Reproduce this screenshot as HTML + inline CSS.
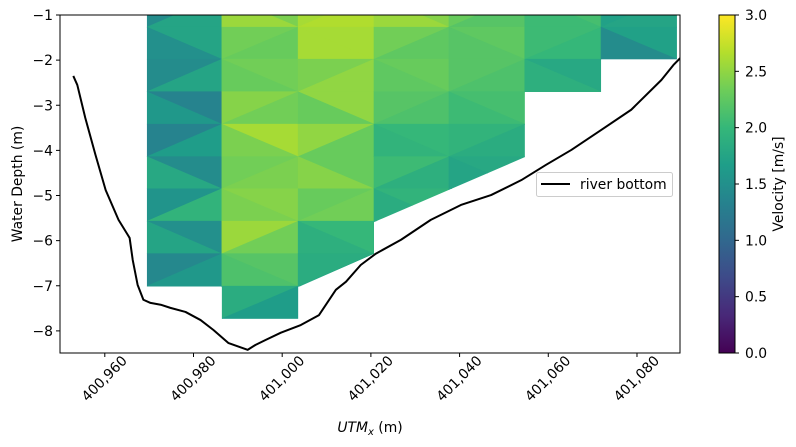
<!DOCTYPE html>
<html><head><meta charset="utf-8"><style>
html,body{margin:0;padding:0;background:#fff;}
svg{display:block;font-family:"DejaVu Sans","Liberation Sans",sans-serif;}
</style></head><body>
<svg id="chart" width="796" height="447" viewBox="0 0 796 447">
<defs>
<clipPath id="axclip"><rect x="60" y="15" width="620" height="338"/></clipPath>
<clipPath id="meshclip"><polygon id="meshpoly" points=""/></clipPath>
<linearGradient id="viridis" x1="0" y1="1" x2="0" y2="0"></linearGradient>
</defs>
<g id="mesh" clip-path="url(#axclip)"><g id="meshinner" clip-path="url(#meshclip)"></g></g>
<polyline id="bottom" fill="none" stroke="#000" stroke-width="2" stroke-linejoin="round" clip-path="url(#axclip)"/>
<rect x="60" y="15" width="620" height="338" fill="none" stroke="#000" stroke-width="1"/>
<g id="xticks"></g>
<g id="yticks"></g>
<text x="370" y="432" text-anchor="middle" font-size="13.9"><tspan font-style="italic">UTM</tspan><tspan font-style="italic" font-size="10" dy="3">x</tspan><tspan dy="-3"> (m)</tspan></text>
<text transform="translate(22,184) rotate(-90)" text-anchor="middle" font-size="13.9">Water Depth (m)</text>
<g>
<rect x="536.5" y="172.5" width="136" height="24" rx="2" fill="#fff" fill-opacity="0.8" stroke="#ccc"/>
<line x1="541" y1="184" x2="570" y2="184" stroke="#000" stroke-width="2"/>
<text x="580" y="189" font-size="13.9">river bottom</text>
</g>
<rect x="719" y="15" width="16" height="338" fill="url(#viridis)" stroke="#000" stroke-width="1"/>
<g id="cticks"></g>
<text transform="translate(783,184) rotate(-90)" text-anchor="middle" font-size="13.9">Velocity [m/s]</text>
</svg>
<script>
const xTicks = [400960, 400980, 401000, 401020, 401040, 401060, 401080];
const yTicks = [-1, -2, -3, -4, -5, -6, -7, -8];
const cTicks = [0, 0.5, 1, 1.5, 2, 2.5, 3];
const colEdges = [400969.5, 400986.4, 401003.6, 401020.7, 401037.6, 401054.7, 401071.9, 401089.0];
const rowNodes = [-0.55, -1.27, -1.98, -2.70, -3.42, -4.14, -4.85, -5.57, -6.29, -7.01, -7.73];
const meshOutline = [[400969.5,-0.5],[401089.0,-0.5],[401089.0,-1.98],[401071.9,-1.98],[401071.9,-2.71],[401054.7,-2.71],[401054.7,-4.15],[401020.7,-5.59],[401020.7,-6.29],[401003.6,-7.03],[401003.6,-7.73],[400986.4,-7.73],[400986.4,-7.03],[400969.5,-7.03]];
const vel0 = [[1.45,1.75],[1.75,1.5],[1.45,1.75],[1.35,1.6],[1.35,1.65],[1.45,1.8],[1.55,1.95],[1.5,1.75],[1.4,1.6]];
const vel1 = [[2.4,2.55],[2.35,2.3],[2.35,2.3],[2.45,2.35],[2.6,2.4],[2.35,2.4],[2.45,2.4],[2.55,2.35],[2.2,2.15],[1.85,1.65]];
const vel2 = [[2.6,2.65],[2.6,2.6],[2.4,2.5],[2.5,2.3],[2.5,2.3],[2.3,2.45],[2.3,2.35],[2.0,1.9],[1.85,1.8]];
const vel3 = [[2.45,2.55],[2.35,2.25],[2.3,2.25],[2.2,2.15],[2.0,1.95],[2.05,1.9],[1.95,1.85],[1.85,1.8]];
const vel4 = [[2.3,2.2],[2.25,2.2],[2.2,2.15],[2.1,2.05],[1.95,1.85],[1.8,1.75],[1.75,1.7]];
const vel5 = [[2.1,2.05],[2.05,2.0],[1.8,1.9]];
const vel6 = [[1.7,1.75],[1.7,1.45]];
const bottomX = [400952.9,400953.8,400955.6,400957.9,400960.2,400963.1,400965.6,400966.3,400967.4,400968.7,400970.3,400972.6,400974.8,400978.2,400981.6,400984.5,400987.9,400992.2,400994.0,400996.3,400999.7,401004.2,401008.3,401012.1,401014.4,401017.7,401021.1,401026.8,401033.5,401040.3,401047.1,401053.9,401059.5,401065.2,401071.9,401078.7,401085.5,401088.2,401090.0];
const bottomY = [-2.35,-2.55,-3.28,-4.10,-4.88,-5.54,-5.94,-6.43,-6.98,-7.31,-7.38,-7.42,-7.49,-7.58,-7.76,-7.98,-8.27,-8.42,-8.31,-8.20,-8.04,-7.87,-7.65,-7.09,-6.91,-6.54,-6.29,-5.98,-5.54,-5.21,-4.99,-4.66,-4.32,-3.99,-3.55,-3.10,-2.44,-2.11,-1.93];

const NS='http://www.w3.org/2000/svg';
const X0=60,X1=680,Y0=15,Y1=353, xmin=400949.9,xmax=401089.7,ymax=-1,ymin=-8.49;
const sx=v=>X0+(v-xmin)/(xmax-xmin)*(X1-X0);
const sy=v=>Y0+(ymax-v)/(ymax-ymin)*(Y1-Y0);
const sc=v=>Y1-(v-0)/3*(Y1-Y0);
const VIR=[[68,1,84],[72,40,120],[62,74,137],[49,104,142],[38,130,142],[31,158,137],[53,183,121],[109,205,89],[180,222,44],[253,231,37]];
function vir(t){t=Math.max(0,Math.min(1,t));const p=t*(VIR.length-1),i=Math.min(Math.floor(p),VIR.length-2),f=p-i;
 const c=VIR[i].map((a,k)=>Math.round(a+(VIR[i+1][k]-a)*f));return `rgb(${c[0]},${c[1]},${c[2]})`;}
function el(tag,attrs,parent){const e=document.createElementNS(NS,tag);for(const k in attrs)e.setAttribute(k,attrs[k]);parent.appendChild(e);return e;}

const grad=document.getElementById('viridis');
VIR.forEach((c,i)=>el('stop',{offset:(i/(VIR.length-1)),'stop-color':`rgb(${c.join(',')})`},grad));

document.getElementById('meshpoly').setAttribute('points',meshOutline.map(p=>sx(p[0])+','+sy(p[1])).join(' '));

const vels=[vel0,vel1,vel2,vel3,vel4,vel5,vel6];
const mg=document.getElementById('meshinner');
vels.forEach((col,c)=>{
 const xl=sx(colEdges[c]),xr=sx(colEdges[c+1]);
 col.forEach((pair,r)=>{
  const yt=sy(rowNodes[r]),yb=sy(rowNodes[r+1]);
  let t1,t2;
  if((r+c)%2===0){t1=[[xl,yt],[xr,yt],[xl,yb]];t2=[[xr,yt],[xr,yb],[xl,yb]];}
  else{t1=[[xl,yt],[xr,yt],[xr,yb]];t2=[[xl,yt],[xr,yb],[xl,yb]];}
  [t1,t2].forEach((tri,k)=>{
   const col2=vir(pair[k]/3);
   const p=el('polygon',{points:tri.map(q=>q.join(',')).join(' '),fill:col2,stroke:col2,'stroke-width':0.6},mg);
   
   
  });
 });
});

document.getElementById('bottom').setAttribute('points',bottomX.map((x,i)=>sx(x)+','+sy(bottomY[i])).join(' '));

const xg=document.getElementById('xticks');
xTicks.forEach(v=>{const x=sx(v);
 const l=el('line',{x1:x,y1:Y1,x2:x,y2:Y1+4,stroke:'#000'},xg);
 
 
 const t=el('text',{transform:`translate(${x},${Y1+26}) rotate(-45)`,'text-anchor':'middle','dominant-baseline':'central','font-size':13.9},xg);
 t.textContent=v.toLocaleString('en-US');
 
 
});
const yg=document.getElementById('yticks');
yTicks.forEach(v=>{const y=sy(v);
 const l=el('line',{x1:X0-4,y1:y,x2:X0,y2:y,stroke:'#000'},yg);
 
 
 const t=el('text',{x:X0-7,y:y+5,'text-anchor':'end','font-size':13.9},yg);
 t.textContent='\u2212'+Math.abs(v);
 
 
});
const cg=document.getElementById('cticks');
cTicks.forEach(v=>{const y=sc(v);
 const l=el('line',{x1:735,y1:y,x2:739,y2:y,stroke:'#000'},cg);
 
 
 const t=el('text',{x:745,y:y+5,'font-size':13.9},cg);
 t.textContent=v.toFixed(1);
 
 
});
</script>
</body></html>
